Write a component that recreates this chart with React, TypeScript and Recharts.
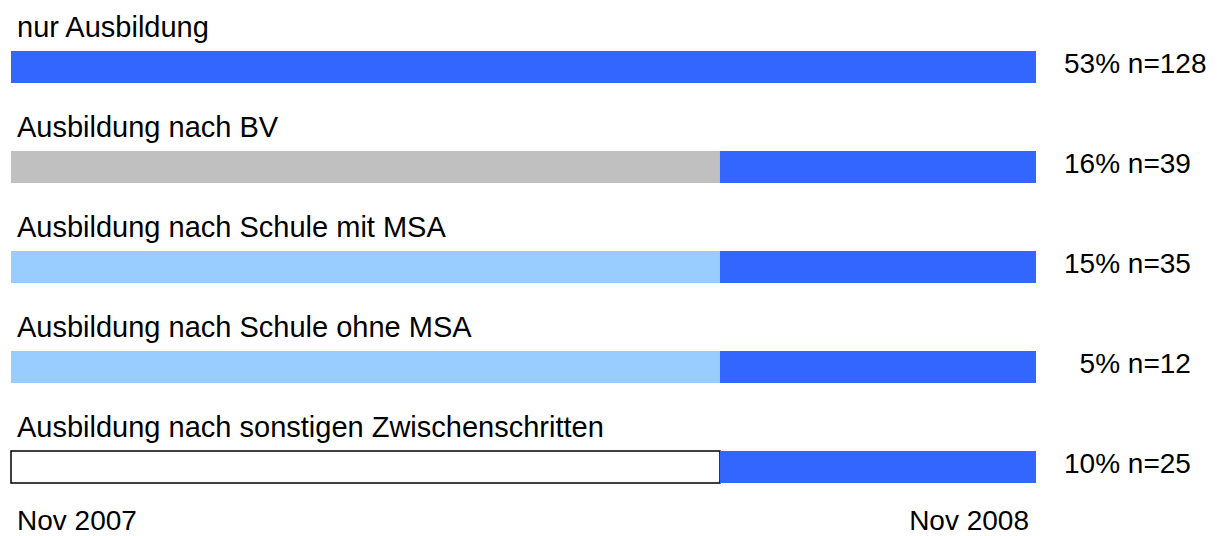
import { BarChart, Bar, XAxis, YAxis, Cell, LabelList } from "recharts";

// Wege in die Ausbildung, Nov 2007 - Nov 2008 (Monate)
const categories = [
  "nur Ausbildung",
  "Ausbildung nach BV",
  "Ausbildung nach Schule mit MSA",
  "Ausbildung nach Schule ohne MSA",
  "Ausbildung nach sonstigen Zwischenschritten",
];
const preMonths = [0, 8.3, 8.3, 8.3, 8.3];
const trainingMonths = [12, 3.7, 3.7, 3.7, 3.7];
const shares = ["53%", "16%", "15%", "\u20075%", "10%"];
const counts = [128, 39, 35, 12, 25];
const periodLabels = ["Nov 2007", "Nov 2008"];

const BLUE = "#3366FF";
const preFill = [BLUE, "#C0C0C0", "#99CCFF", "#99CCFF", "#FFFFFF"];
const preStroke = ["none", "none", "none", "none", "#000000"];
const FONT = "'Liberation Sans', Arial, Helvetica, sans-serif";

const data = categories.map((name, i) => ({
  name,
  pre: preMonths[i],
  training: trainingMonths[i],
  label: `${shares[i]} n=${counts[i]}`,
}));

function PeriodTick(props: any) {
  const { x, y, payload } = props;
  const first = payload.value === 0;
  return (
    <text
      x={first ? x + 6 : x - 7}
      y={y + 5}
      fontSize={28}
      fontFamily={FONT}
      fill="#000"
      textAnchor={first ? "start" : "end"}
    >
      {first ? periodLabels[0] : periodLabels[1]}
    </text>
  );
}

// category name above each bar, aligned to the left edge
function NameLabel(props: any) {
  const { y, value } = props;
  return (
    <text x={17} y={y - 14} fontSize={29} fontFamily={FONT} fill="#000" textAnchor="start">
      {value}
    </text>
  );
}

function ShareLabel(props: any) {
  const { x, y, width, value } = props;
  return (
    <text
      x={x + width + 28}
      y={y + 22}
      fontSize={28}
      fontFamily={FONT}
      fill="#000"
      textAnchor="start"
      style={{ whiteSpace: "pre" }}
    >
      {value}
    </text>
  );
}

export default function App() {
  return (
    <div style={{ position: "absolute", left: 0, top: 0, background: "#fff" }}>
      <BarChart
        width={1224}
        height={536}
        data={data}
        layout="vertical"
        margin={{ top: 17, right: 188, bottom: 0, left: 11 }}
        barSize={32}
      >
        <XAxis
          type="number"
          domain={[0, 12]}
          ticks={[0, 12]}
          axisLine={false}
          tickLine={false}
          height={19}
          tick={<PeriodTick />}
        />
        <YAxis type="category" dataKey="name" hide />
        <Bar dataKey="pre" stackId="a" isAnimationActive={false}>
          {data.map((_, i) => (
            <Cell key={i} fill={preFill[i]} stroke={preStroke[i]} strokeWidth={1.5} />
          ))}
        </Bar>
        <Bar dataKey="training" stackId="a" fill={BLUE} isAnimationActive={false}>
          <LabelList dataKey="name" content={<NameLabel />} />
          <LabelList dataKey="label" content={<ShareLabel />} />
        </Bar>
      </BarChart>
    </div>
  );
}
